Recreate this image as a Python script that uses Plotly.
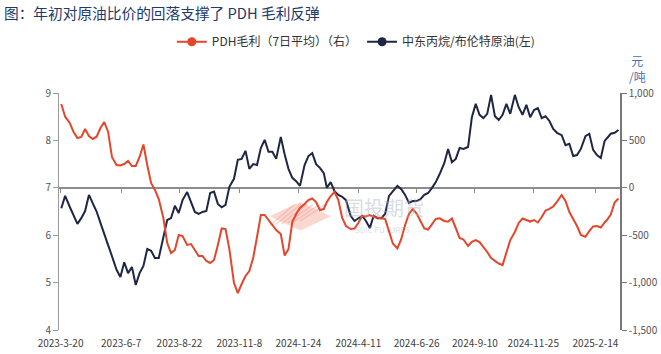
import plotly.graph_objects as go

dates = [
    "2023-03-21", "2023-03-26",
    "2023-04-01", "2023-04-06", "2023-04-11", "2023-04-16", "2023-04-21", "2023-04-26",
    "2023-05-01", "2023-05-06", "2023-05-11", "2023-05-16", "2023-05-21", "2023-05-26",
    "2023-06-01", "2023-06-06", "2023-06-11", "2023-06-16", "2023-06-21", "2023-06-26",
    "2023-07-01", "2023-07-06", "2023-07-11", "2023-07-16", "2023-07-21", "2023-07-26",
    "2023-08-01", "2023-08-06", "2023-08-11", "2023-08-16", "2023-08-21", "2023-08-26",
    "2023-09-01", "2023-09-06", "2023-09-11", "2023-09-16", "2023-09-21", "2023-09-26",
    "2023-10-01", "2023-10-06", "2023-10-11", "2023-10-16", "2023-10-21", "2023-10-26",
    "2023-11-01", "2023-11-06", "2023-11-11", "2023-11-16", "2023-11-21", "2023-11-26",
    "2023-12-01", "2023-12-06", "2023-12-11", "2023-12-16", "2023-12-21", "2023-12-26",
    "2024-01-01", "2024-01-06", "2024-01-11", "2024-01-16", "2024-01-21", "2024-01-26",
    "2024-02-01", "2024-02-06", "2024-02-11", "2024-02-16", "2024-02-21", "2024-02-26",
    "2024-03-01", "2024-03-06", "2024-03-11", "2024-03-16", "2024-03-21", "2024-03-26",
    "2024-04-01", "2024-04-06", "2024-04-11", "2024-04-16", "2024-04-21", "2024-04-26",
    "2024-05-01", "2024-05-06", "2024-05-11", "2024-05-16", "2024-05-21", "2024-05-26",
    "2024-06-01", "2024-06-06", "2024-06-11", "2024-06-16", "2024-06-21", "2024-06-26",
    "2024-07-01", "2024-07-06", "2024-07-11", "2024-07-16", "2024-07-21", "2024-07-26",
    "2024-08-01", "2024-08-06", "2024-08-11", "2024-08-16", "2024-08-21", "2024-08-26",
    "2024-09-01", "2024-09-06", "2024-09-11", "2024-09-16", "2024-09-21", "2024-09-26",
    "2024-10-01", "2024-10-06", "2024-10-11", "2024-10-16", "2024-10-21", "2024-10-26",
    "2024-11-01", "2024-11-06", "2024-11-11", "2024-11-16", "2024-11-21", "2024-11-26",
    "2024-12-01", "2024-12-06", "2024-12-11", "2024-12-16", "2024-12-21", "2024-12-26",
    "2025-01-01", "2025-01-06", "2025-01-11", "2025-01-16", "2025-01-21", "2025-01-26",
    "2025-02-01", "2025-02-06", "2025-02-11", "2025-02-16", "2025-02-21", "2025-02-26",
    "2025-03-01", "2025-03-06", "2025-03-11", "2025-03-16",
]

# 中东丙烷/布伦特原油 (left axis)
propane_brent_ratio = [
    6.57, 6.83, 6.60, 6.41, 6.24, 6.36, 6.51, 6.85, 6.68, 6.50,
    6.26, 6.00, 5.79, 5.56, 5.27, 5.12, 5.43, 5.20, 5.33, 4.95,
    5.20, 5.35, 5.71, 5.67, 5.52, 5.52, 5.94, 6.32, 6.36, 6.62,
    6.47, 6.74, 6.91, 6.72, 6.49, 6.45, 6.49, 6.51, 6.89, 6.92,
    6.66, 6.59, 6.64, 7.02, 7.19, 7.59, 7.61, 7.78, 7.40, 7.50,
    7.48, 7.84, 8.01, 7.76, 7.76, 7.61, 8.07, 7.71, 7.40, 7.21,
    7.14, 7.04, 7.48, 7.67, 7.73, 7.50, 7.42, 7.31, 7.00, 7.12,
    6.93, 6.85, 6.81, 6.74, 6.41, 6.30, 6.35, 6.41, 6.30, 6.15,
    6.41, 6.36, 6.36, 6.45, 6.83, 6.93, 7.04, 6.97, 6.85, 6.68,
    6.72, 6.72, 6.76, 6.85, 6.89, 7.00, 7.12, 7.29, 7.52, 7.82,
    7.54, 7.61, 7.84, 7.82, 7.86, 8.49, 8.77, 8.54, 8.47, 8.56,
    8.96, 8.51, 8.43, 8.54, 8.77, 8.56, 8.96, 8.70, 8.54, 8.75,
    8.49, 8.64, 8.68, 8.47, 8.51, 8.41, 8.24, 8.16, 8.11, 7.90,
    7.93, 7.67, 7.69, 7.82, 8.09, 8.14, 7.80, 7.69, 7.63, 7.99,
    8.05, 8.14, 8.16, 8.22,
]

# PDH毛利（7日平均）(right axis, 元/吨)
pdh_margin = [
    884, 750, 684, 589, 525, 536, 620, 546, 515, 539,
    631, 694, 589, 325, 240, 235, 251, 283, 230, 230,
    325, 457, 240, 51, -23, -118, -319, -582, -688, -656,
    -498, -509, -603, -593, -656, -719, -719, -772, -793, -762,
    -603, -429, -435, -646, -1004, -1110, -1015, -930, -878, -741,
    -519, -287, -287, -340, -382, -445, -487, -714, -646, -361,
    -277, -213, -171, -129, -113, -150, -234, -224, -150, -87,
    -44, -129, -319, -403, -435, -429, -371, -298, -303, -287,
    -308, -319, -322, -329, -456, -588, -640, -540, -392, -276,
    -224, -271, -350, -429, -440, -382, -329, -322, -350, -358,
    -324, -424, -530, -545, -614, -569, -551, -572, -619, -677,
    -741, -772, -799, -815, -688, -551, -466, -371, -324, -340,
    -356, -340, -366, -308, -240, -222, -197, -145, -76, -139,
    -255, -329, -403, -498, -516, -456, -408, -403, -419, -366,
    -340, -282, -155, -113,
]

x_tick_vals = ["2023-03-20", "2023-06-07", "2023-08-22", "2023-11-08", "2024-01-24",
               "2024-04-11", "2024-06-26", "2024-09-10", "2024-11-25", "2025-02-14"]
x_tick_text = ["2023-3-20", "2023-6-7", "2023-8-22", "2023-11-8", "2024-1-24",
               "2024-4-11", "2024-6-26", "2024-9-10", "2024-11-25", "2025-2-14"]
left_ticks = [4, 5, 6, 7, 8, 9]
right_tick_vals = [-1500, -1000, -500, 0, 500, 1000]
right_tick_text = ["-1,500", "-1,000", "-500", "0", "500", "1,000"]

ORANGE = "#E2472C"
NAVY = "#1E2643"
FONT = "Noto Sans CJK SC"
X_RANGE = ["2023-03-18", "2025-03-18"]

fig = go.Figure()

fig.add_trace(go.Scatter(x=dates, y=pdh_margin, mode="lines", yaxis="y2",
                         line=dict(color=ORANGE, width=2), showlegend=False))
fig.add_trace(go.Scatter(x=dates, y=propane_brent_ratio, mode="lines", yaxis="y",
                         line=dict(color=NAVY, width=2), showlegend=False))
# legend entries
fig.add_trace(go.Scatter(x=[None], y=[None], mode="lines+markers", name="PDH毛利（7日平均）（右）",
                         line=dict(color=ORANGE, width=2), marker=dict(size=9, color=ORANGE)))
fig.add_trace(go.Scatter(x=[None], y=[None], mode="lines+markers", name="中东丙烷/布伦特原油(左)",
                         line=dict(color=NAVY, width=2), marker=dict(size=9, color=NAVY)))
# carrier for axis drawn at the 7 / 0 level
fig.add_trace(go.Scatter(x=[None], y=[None], xaxis="x2", yaxis="y", showlegend=False,
                         hoverinfo="skip"))

# faint watermark logo (two diamonds, left one striped)
logo_shapes = [
    dict(type="path", xref="paper", yref="paper",
         path="M 0.43 0.42 L 0.485 0.48 L 0.43 0.54 L 0.375 0.48 Z",
         fillcolor="rgba(240,140,120,0.35)", line=dict(width=0), layer="below"),
]
for k in range(6):
    x0 = 0.375 + k * 0.011
    logo_shapes.append(dict(type="line", xref="paper", yref="paper",
                            x0=x0, y0=0.44 + k * 0.004, x1=x0 + 0.045, y1=0.53,
                            line=dict(color="rgba(240,140,120,0.35)", width=1.5),
                            layer="below"))

fig.update_layout(
    width=661, height=354,
    margin=dict(l=59, r=41, t=93, b=24),
    paper_bgcolor="white", plot_bgcolor="white",
    font=dict(family=FONT, size=10, color="#555555"),
    title=dict(text="图：年初对原油比价的回落支撑了 PDH 毛利反弹",
               x=0.006, xref="container", xanchor="left",
               y=0.962, yref="container", yanchor="middle",
               font=dict(family=FONT, size=14.7, color="#23386B")),
    legend=dict(orientation="h", x=0.53, xanchor="center", y=0.882, yref="container",
                yanchor="middle", font=dict(family=FONT, size=12, color="#333333"),
                itemwidth=30, bgcolor="rgba(0,0,0,0)", tracegroupgap=0),
    xaxis=dict(type="date", range=X_RANGE, tickvals=x_tick_vals, ticktext=x_tick_text,
               showgrid=False, showline=False, ticks="", zeroline=False, automargin=False,
               ticklabelstandoff=6, tickfont=dict(size=10, color="#404040")),
    xaxis2=dict(type="date", range=X_RANGE, tickvals=x_tick_vals, overlaying="x",
                anchor="free", position=0.6, showticklabels=False, showgrid=False,
                showline=True, linecolor="#8C8C8C", linewidth=1.5, ticks="outside",
                ticklen=4, tickcolor="#8C8C8C", tickwidth=1, layer="below traces",
                automargin=False),
    yaxis=dict(range=[4, 9], tickvals=left_ticks, showgrid=False, zeroline=False,
               showline=True, linecolor="#9A9A9A", linewidth=1, ticks="outside",
               ticklen=5, tickcolor="#9A9A9A", automargin=False,
               tickfont=dict(size=10, color="#555555")),
    yaxis2=dict(range=[-1500, 1000], tickvals=right_tick_vals, ticktext=right_tick_text,
                overlaying="y", side="right", showgrid=False, zeroline=False,
                showline=True, linecolor="#777777", linewidth=1.5, ticks="outside",
                ticklen=5, tickcolor="#777777", automargin=False,
                tickfont=dict(size=10, color="#555555")),
    annotations=[
        dict(text="元<br>/吨", xref="paper", yref="paper", x=1.012, y=1.025,
             xanchor="left", yanchor="bottom", showarrow=False, align="center",
             font=dict(family=FONT, size=12, color="#4A6FB0")),
        dict(text="国投期货", xref="paper", yref="paper", x=0.58, y=0.515,
             xanchor="center", yanchor="middle", showarrow=False,
             font=dict(family=FONT, size=20, color="rgba(170,175,190,0.45)")),
        dict(text="SDIC FUTURES", xref="paper", yref="paper", x=0.577, y=0.425,
             xanchor="center", yanchor="middle", showarrow=False,
             font=dict(family=FONT, size=8, color="rgba(170,175,190,0.45)")),
    ],
    shapes=logo_shapes,
)

fig.write_html("out.html")
